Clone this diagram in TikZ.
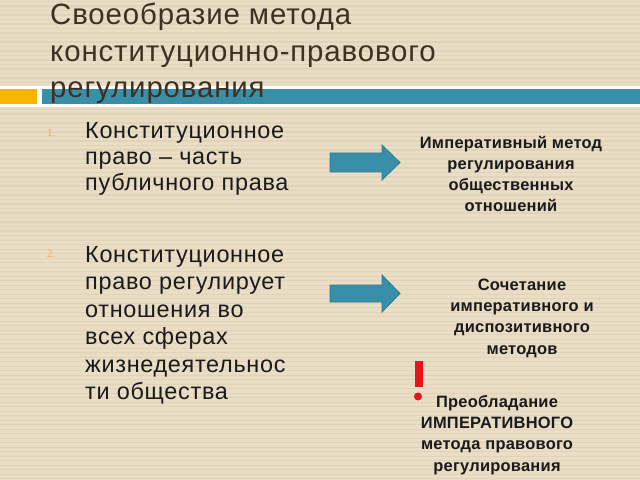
\documentclass[tikz,border=0pt]{standalone}
\usepackage{fontspec}
\setmainfont{Liberation Sans}
\newfontfamily\titlefont[LetterSpace=3]{Liberation Sans}
\newfontfamily\itemfont[LetterSpace=3]{Liberation Sans}
\newfontfamily\rightfont[LetterSpace=1.5]{Liberation Sans}
\newfontfamily\numfont{Liberation Serif}
\definecolor{bgc}{HTML}{E9DDC5}
\definecolor{stripe}{HTML}{E0D3B9}
\definecolor{tealc}{HTML}{3A8FA8}
\definecolor{tealdark}{HTML}{2E7A90}
\definecolor{orangec}{HTML}{F7B500}
\definecolor{titlec}{HTML}{3E3022}
\definecolor{numc}{HTML}{E3B04B}
\definecolor{txt}{HTML}{1A1A1A}
\definecolor{redc}{HTML}{E8141B}
\begin{document}
\begin{tikzpicture}[x=1bp,y=-1bp,
  titletext/.style={anchor=base west,inner sep=0pt,align=left,text=titlec,font=\titlefont\fontsize{29.5}{36.5}\selectfont},
  itemtext/.style={anchor=base west,inner sep=0pt,align=left,text=txt,font=\itemfont\fontsize{23.5}{#1}\selectfont},
  numtext/.style={anchor=base west,inner sep=0pt,text=numc,font=\numfont\fontsize{11}{13}\selectfont},
  righttext/.style={anchor=base,inner sep=0pt,align=center,text=txt,font=\rightfont\bfseries\fontsize{16.5}{21.3}\selectfont},
  arrowshape/.style={fill=tealc,draw=tealdark,line width=0.8bp}]
\useasboundingbox (0,0) rectangle (640,480);
\fill[bgc] (0,0) rectangle (640,480);
\foreach \i in {0,...,106} {\fill[stripe] (0,{\i*4.5+1}) rectangle (640,{\i*4.5+2.2});}
% bar
\fill[white] (0,86) rectangle (640,107);
\fill[orangec] (0,89) rectangle (37,104);
\fill[tealc] (42,89) rectangle (640,104);
% title
\node[titletext] (title) at (50,97.5) {Своеобразие метода\\конституционно-правового\\регулирования};
% left list
\node[numtext] (n1) at (47,137) {1.};
\node[itemtext=26.5] (i1) at (85,191) {Конституционное\\право – часть\\публичного права};
\node[numtext] (n2) at (47,257) {2.};
\node[itemtext=27.5] (i2) at (85,399.5) {Конституционное\\право регулирует\\отношения во\\всех сферах\\жизнедеятельнос\\ти общества};
% arrows
\draw[arrowshape] (330,153) -- (382,153) -- (382,145) -- (400,162.5) -- (382,180) -- (382,172) -- (330,172) -- cycle;
\draw[arrowshape] (330,285) -- (382,285) -- (382,275) -- (400,293.5) -- (382,312) -- (382,302) -- (330,302) -- cycle;
% right texts
\node[righttext] (r1) at (511,212) {Императивный метод\\регулирования\\общественных\\отношений};
\node[righttext] (r2) at (522,354) {Сочетание\\императивного и\\диспозитивного\\методов};
\node[righttext] (r3) at (497,471) {Преобладание\\ИМПЕРАТИВНОГО\\метода правового\\регулирования};
% exclamation
\fill[redc] (415,360.5) rectangle (423,386.5);
\fill[redc] (418,396.5) circle (4);
\end{tikzpicture}
\end{document}
